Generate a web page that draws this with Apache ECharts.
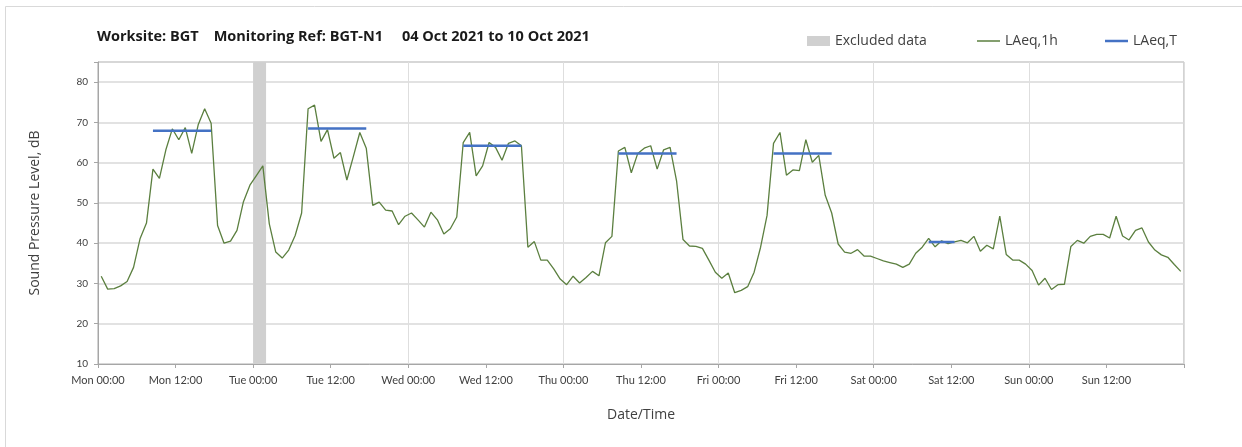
<!DOCTYPE html>
<html>
<head>
<meta charset="utf-8">
<script src="https://cdn.jsdelivr.net/npm/echarts@6/dist/echarts.min.js"></script>
<style>
  html, body { margin: 0; padding: 0; background: #ffffff; }
  #chart { width: 1242px; height: 447px; }
</style>
</head>
<body>
<div id="chart"></div>
<script>
// ---- Data ----
const dayNames = ['Mon', 'Tue', 'Wed', 'Thu', 'Fri', 'Sat', 'Sun'];
const titleText = 'Worksite: BGT    Monitoring Ref: BGT-N1     04 Oct 2021 to 10 Oct 2021';

// Hourly LAeq,1h values, hour 0 = Mon 00:00 (168 hours)
const laeq1h = [
  31.8, 28.6, 28.7, 29.4, 30.5, 34.0, 41.1, 45.0, 58.4, 56.1, 63.2, 68.4,
  65.7, 68.7, 62.3, 69.4, 73.4, 69.8, 44.4, 40.0, 40.5, 43.2, 50.3, 54.4,
  56.8, 59.2, 44.8, 37.8, 36.3, 38.3, 41.9, 47.5, 73.4, 74.3, 65.3, 68.2,
  61.1, 62.5, 55.7, 61.5, 67.5, 63.6, 49.4, 50.2, 48.2, 48.0, 44.6, 46.7,
  47.5, 45.8, 44.0, 47.7, 45.8, 42.3, 43.6, 46.5, 65.0, 67.5, 56.7, 59.2,
  65.0, 63.8, 60.6, 64.8, 65.4, 64.2, 39.0, 40.4, 35.8, 35.8, 33.6, 31.1,
  29.7, 31.8, 30.1, 31.5, 33.0, 31.9, 40.1, 41.7, 62.9, 63.8, 57.5, 62.3,
  63.6, 64.2, 58.4, 63.2, 63.8, 55.5, 40.9, 39.3, 39.2, 38.7, 35.8, 32.8,
  31.3, 32.6, 27.7, 28.3, 29.2, 32.8, 39.0, 46.9, 64.8, 67.5, 56.9, 58.2,
  58.0, 65.7, 60.1, 61.8, 51.9, 47.5, 39.8, 37.8, 37.5, 38.4, 36.8, 36.8,
  36.2, 35.6, 35.2, 34.8, 34.0, 34.8, 37.5, 39.0, 41.2, 39.1, 40.6, 39.9,
  40.3, 40.7, 40.1, 41.7, 38.0, 39.5, 38.6, 46.7, 37.2, 35.8, 35.8, 34.8,
  33.2, 29.6, 31.3, 28.5, 29.7, 29.8, 39.2, 40.7, 40.0, 41.7, 42.2, 42.2,
  41.3, 46.7, 41.8, 40.8, 43.2, 43.8, 40.3, 38.3, 37.1, 36.5, 34.7, 33.0
];

// LAeq,T periods (first and last hour index) and levels
const periodStart = [8, 32, 56, 80, 104, 128];
const periodEnd   = [17, 41, 65, 89, 113, 132];
const periodLevel = [67.9, 68.5, 64.2, 62.3, 62.3, 40.3];

// Excluded data window (hours from Mon 00:00)
const excludedFrom = 24;
const excludedTo = 26;

// ---- Build series data ----
const lineData = laeq1h.map((v, i) => [i + 0.5, v]);
const periodData = [];
periodStart.forEach((s, k) => {
  if (k > 0) periodData.push([s, null]);
  periodData.push([s + 0.5, periodLevel[k]]);
  periodData.push([periodEnd[k] + 0.5, periodLevel[k]]);
});

const FONT = 'Lato';
const FONT2 = 'Open Sans';
const green = '#5b7f3f';
const blue = '#4472c4';
const excludedGrey = '#d0d0d0';

const chart = echarts.init(document.getElementById('chart'), null, { renderer: 'canvas' });
chart.setOption({
  animation: false,
  backgroundColor: '#ffffff',
  textStyle: { fontFamily: FONT },
  title: {
    text: titleText,
    left: 92,
    top: 24,
    textStyle: { fontFamily: FONT2, fontSize: 14.5, fontWeight: 'bold', color: '#1a1a1a' }
  },
  legend: [
    {
      data: [{ name: 'Excluded data', icon: 'rect' }],
      left: 802, top: 29, itemWidth: 23, itemHeight: 10,
      textStyle: { fontFamily: FONT2, fontSize: 14, color: '#404040' },
      selectedMode: false
    },
    {
      data: [{ name: 'LAeq,1h', icon: 'rect' }],
      left: 972, top: 29, itemWidth: 23, itemHeight: 1.5,
      textStyle: { fontFamily: FONT2, fontSize: 14, color: '#404040' },
      selectedMode: false
    },
    {
      data: [{ name: 'LAeq,T', icon: 'rect' }],
      left: 1100, top: 29, itemWidth: 23, itemHeight: 2.5,
      textStyle: { fontFamily: FONT2, fontSize: 14, color: '#404040' },
      selectedMode: false
    }
  ],
  grid: {
    left: 98, right: 58, top: 62, bottom: 83,
    show: true, borderColor: '#a6a6a6', borderWidth: 1,
    containLabel: false
  },
  xAxis: [
    {
      type: 'value', min: 0, max: 168, interval: 12,
      name: 'Date/Time', nameLocation: 'middle', nameGap: 44,
      nameTextStyle: { fontFamily: FONT2, fontSize: 14, color: '#404040' },
      axisLine: { show: true, lineStyle: { color: '#a6a6a6' } },
      axisTick: { show: true, length: 4, lineStyle: { color: '#a6a6a6' } },
      axisLabel: {
        margin: 11, fontSize: 11, color: '#404040', fontFamily: FONT,
        formatter: v => v >= 168 ? '' : dayNames[Math.floor(v / 24)] + (v % 24 === 0 ? ' 00:00' : ' 12:00')
      },
      splitLine: { show: false }
    },
    {
      type: 'value', min: 0, max: 168, interval: 24, position: 'bottom',
      axisLine: { show: false }, axisTick: { show: false }, axisLabel: { show: false },
      splitLine: { show: true, lineStyle: { color: '#dedede', width: 1 } }
    }
  ],
  yAxis: {
    type: 'value', min: 10, max: 85, interval: 10,
    name: 'Sound Pressure Level, dB', nameLocation: 'middle', nameGap: 56, nameRotate: 90,
    nameTextStyle: { fontFamily: FONT2, fontSize: 14, color: '#404040' },
    axisLine: { show: true, lineStyle: { color: '#a6a6a6' } },
    axisTick: { show: true, length: 4, lineStyle: { color: '#a6a6a6' } },
    axisLabel: {
      margin: 10, fontSize: 10, color: '#404040', fontFamily: FONT,
      formatter: v => v > 80 ? '' : String(v)
    },
    splitLine: { show: true, lineStyle: { color: '#d9d9d9', width: 1.5 } }
  },
  series: [
    {
      name: 'Excluded data', type: 'line', data: [],
      itemStyle: { color: excludedGrey }, lineStyle: { color: excludedGrey },
      markArea: {
        silent: true,
        itemStyle: { color: excludedGrey, opacity: 1 },
        data: [[{ xAxis: excludedFrom }, { xAxis: excludedTo }]]
      }
    },
    {
      name: 'LAeq,1h', type: 'line', data: lineData, symbol: 'none',
      itemStyle: { color: green },
      lineStyle: { color: green, width: 1.3 },
      z: 3
    },
    {
      name: 'LAeq,T', type: 'line', data: periodData, symbol: 'none', connectNulls: false,
      itemStyle: { color: blue },
      lineStyle: { color: blue, width: 2.5 },
      z: 4
    }
  ],
  graphic: [
    { type: 'line', shape: { x1: 5.5, y1: 6.5, x2: 1242, y2: 6.5 }, style: { stroke: '#d9d9d9', lineWidth: 1 }, silent: true },
    { type: 'line', shape: { x1: 5.5, y1: 6.5, x2: 5.5, y2: 447 }, style: { stroke: '#d9d9d9', lineWidth: 1 }, silent: true }
  ]
});
</script>
</body>
</html>
